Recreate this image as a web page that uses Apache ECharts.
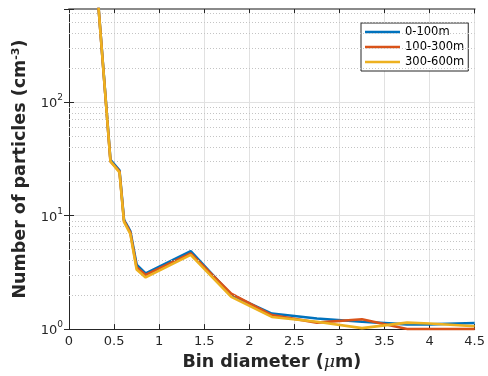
<!DOCTYPE html>
<html>
<head>
<meta charset="utf-8">
<script src="https://cdn.jsdelivr.net/npm/echarts@6/dist/echarts.min.js"></script>
<style>
  html, body { margin: 0; padding: 0; background: #fff; }
  #chart { width: 488px; height: 376px; }
</style>
</head>
<body>
<div id="chart"></div>
<script>
// Bin centre diameters (µm)
const diameters = [0.30, 0.46, 0.56, 0.61, 0.68, 0.75, 0.85, 1.35, 1.80, 2.25, 2.75, 3.25, 3.75, 4.00, 4.50];
// Particle number concentration (cm^-3) per altitude layer
const layer0to100 = [1300, 31, 25, 9.2, 7.3, 3.7, 3.1, 4.85, 2.0, 1.37, 1.24, 1.16, 1.10, 1.10, 1.13];
const layer100to300 = [1300, 30, 24.5, 9.0, 7.1, 3.5, 3.0, 4.65, 2.05, 1.33, 1.14, 1.22, 1.0, 1.0, 1.0];
const layer300to600 = [1300, 30, 24, 8.8, 6.9, 3.35, 2.85, 4.5, 1.92, 1.28, 1.16, 1.02, 1.14, 1.12, 1.06];
const seriesNames = ['0-100m', '100-300m', '300-600m'];
const seriesColors = ['#0072BD', '#D95319', '#EDB120'];
// Axis settings
const xTicks = [0, 0.5, 1, 1.5, 2, 2.5, 3, 3.5, 4, 4.5];
const yMin = 1, yMax = 660;
// Dotted minor grid levels inside each decade
const minorLevels = [2, 3, 4, 5, 6, 7, 8, 9, 20, 30, 40, 50, 60, 70, 80, 90, 200, 300, 400, 500, 600];

const font = 'DejaVu Sans';
const axisColor = '#262626';

function pairs(vals) { return diameters.map((d, i) => [d, vals[i]]); }

function decadeLabel(v) {
  const lg = Math.log10(v);
  const e = Math.round(lg);
  if (Math.abs(lg - e) > 1e-6) return '';
  return '{b|10}{s|' + e + '}';
}

const chart = echarts.init(document.getElementById('chart'), null, { renderer: 'canvas' });

const allData = [layer0to100, layer100to300, layer300to600];
const series = allData.map((vals, i) => ({
  name: seriesNames[i],
  type: 'line',
  data: pairs(vals),
  symbol: 'none',
  lineStyle: { width: 2.6, color: seriesColors[i] },
  itemStyle: { color: seriesColors[i] },
  z: 3 + i,
  animation: false
}));
series[0].markLine = {
  silent: true,
  symbol: 'none',
  label: { show: false },
  animation: false,
  lineStyle: { color: '#c4c4c4', type: [1, 2], width: 1 },
  data: minorLevels.map(v => ({ yAxis: v }))
};

const option = {
  animation: false,
  backgroundColor: '#fff',
  textStyle: { fontFamily: font },
  grid: { left: 69, right: 10, top: 9, bottom: 45, containLabel: false },
  legend: {
    orient: 'vertical',
    left: 361, top: 23,
    padding: [2, 4, 2, 4],
    itemGap: 1,
    itemWidth: 35, itemHeight: 2.6,
    icon: 'rect',
    backgroundColor: '#fff',
    borderColor: axisColor, borderWidth: 1,
    textStyle: { fontFamily: font, fontSize: 11.5, color: '#000', lineHeight: 14 },
    data: seriesNames
  },
  xAxis: [{
    type: 'value', min: 0, max: 4.5, interval: 0.5,
    name: 'Bin diameter ({mu|μ}m)', nameLocation: 'middle', nameGap: 23,
    nameTextStyle: {
      fontFamily: font, fontSize: 17.5, fontWeight: 'bold', color: axisColor,
      rich: { mu: { fontFamily: 'DejaVu Serif', fontStyle: 'italic', fontWeight: 'normal', fontSize: 17.5, color: axisColor } }
    },
    axisLine: { show: true, lineStyle: { color: axisColor, width: 1 } },
    axisTick: { show: true, inside: true, length: 5, lineStyle: { color: axisColor } },
    axisLabel: { fontFamily: font, fontSize: 13, color: axisColor, margin: 6, formatter: v => String(v) },
    splitLine: { show: true, lineStyle: { color: '#e1e1e1', width: 1 } }
  }, {
    type: 'value', position: 'top', min: 0, max: 4.5, interval: 0.5,
    axisLine: { show: true, onZero: false, lineStyle: { color: '#8a8a8a', width: 2 } },
    axisTick: { show: true, inside: true, length: 5, lineStyle: { color: axisColor } },
    axisLabel: { show: false },
    splitLine: { show: false }
  }],
  yAxis: [{
    type: 'log', logBase: 10, min: yMin, max: yMax,
    name: 'Number of particles (cm{s|-3})', nameLocation: 'middle', nameGap: 32, nameRotate: 90,
    nameTextStyle: {
      fontFamily: font, fontSize: 17.5, fontWeight: 'bold', color: axisColor,
      rich: { s: { fontFamily: font, fontSize: 11, fontWeight: 'bold', color: axisColor, verticalAlign: 'bottom', padding: [0, 0, 9, 0] } }
    },
    axisLine: { show: true, lineStyle: { color: axisColor, width: 1 } },
    axisTick: { show: true, inside: true, length: 5, lineStyle: { color: axisColor } },
    axisLabel: {
      fontFamily: font, color: axisColor, margin: 6,
      formatter: decadeLabel,
      rich: {
        b: { fontFamily: font, fontSize: 13, color: axisColor, verticalAlign: 'bottom' },
        s: { fontFamily: font, fontSize: 9, color: axisColor, verticalAlign: 'bottom', padding: [0, 0, 8, 0] }
      }
    },
    splitLine: { show: true, lineStyle: { color: '#e1e1e1', width: 1 } }
  }, {
    type: 'log', logBase: 10, min: yMin, max: yMax, position: 'right',
    axisLine: { show: true, lineStyle: { color: axisColor, width: 1 } },
    axisTick: { show: true, inside: true, length: 5, lineStyle: { color: axisColor } },
    axisLabel: { show: false },
    splitLine: { show: false }
  }],
  series: series
};

chart.setOption(option);
</script>
</body>
</html>
